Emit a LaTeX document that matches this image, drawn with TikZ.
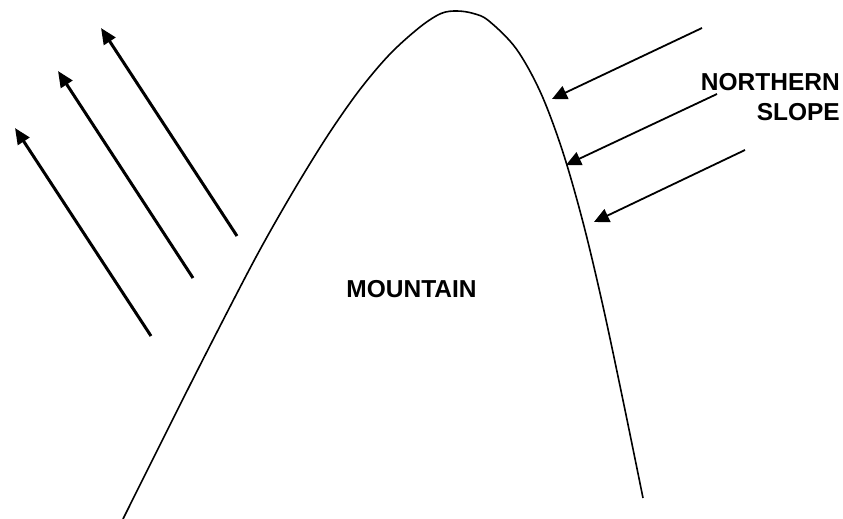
\documentclass[tikz,border=0pt]{standalone}
\usepackage{fontspec}
\setmainfont{Liberation Sans}
\usetikzlibrary{arrows.meta}
\begin{document}
\begin{tikzpicture}[x=1pt,y=-1pt,
  lbl/.style={font=\fontsize{24.5}{30}\selectfont\bfseries, inner sep=0pt},
  sunray/.style={line width=3pt, -{Triangle[length=16pt,width=13.5pt]}},
  wind/.style={line width=1.8pt, -{Triangle[length=15pt,width=14pt]}},
  slope/.style={line width=1.6pt}]
\useasboundingbox (0,0) rectangle (843,519);
% mountain outline
\draw[slope] plot[smooth, tension=0.55] coordinates {
  (123,519) (190,385) (243,281.6) (270,231.6) (300,180) (330,132)
  (360,89.4) (390,54) (420,27) (441,13.5) (457,11) (473.3,13.45) (488.6,20.7) (516.1,48.6)
  (540.7,92.8) (562.75,151.75) (583.3,223.5) (603,306.3) (622.6,398.4) (643,498)};
% labels
\node[lbl, anchor=base] (mountain) at (411.5,297) {MOUNTAIN};
\node[lbl, anchor=base east] (northern) at (840,90) {NORTHERN};
\node[lbl, anchor=base east] (slopetxt) at (840,120) {SLOPE};
% left arrows
\coordinate (a1s) at (151,336); \coordinate (a1e) at (15,128);
\coordinate (a2s) at (193,278); \coordinate (a2e) at (58,71);
\coordinate (a3s) at (237,236); \coordinate (a3e) at (101,28);
\draw[sunray] (a1s) -- (a1e);
\draw[sunray] (a2s) -- (a2e);
\draw[sunray] (a3s) -- (a3e);
% right arrows
\coordinate (b1s) at (702,28); \coordinate (b1e) at (552,99);
\coordinate (b2s) at (717,94); \coordinate (b2e) at (566,165);
\coordinate (b3s) at (745,150); \coordinate (b3e) at (594,222);
\draw[wind] (b1s) -- (b1e);
\draw[wind] (b2s) -- (b2e);
\draw[wind] (b3s) -- (b3e);
\end{tikzpicture}
\end{document}
